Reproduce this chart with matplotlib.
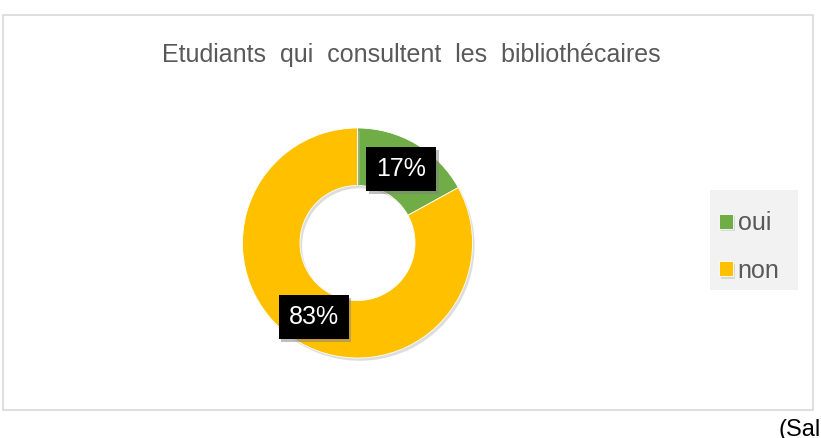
import matplotlib.pyplot as plt
from matplotlib.patches import Rectangle
import matplotlib.patheffects as pe

plt.rcParams["font.family"] = ["Liberation Sans", "DejaVu Sans"]

W, H = 821, 438

labels = ["oui", "non"]
shares = [17, 83]
colors = ["#70AD47", "#FFC000"]
title = "Etudiants  qui  consultent  les  bibliothécaires"

fig = plt.figure(figsize=(W / 100, H / 100), dpi=100)


def px(x, y):
    """pixel coords (from top-left) -> figure fraction"""
    return x / W, 1 - y / H


# chart frame
x0, y0 = px(3, 410)
x1, y1 = px(813, 15)
fig.patches.append(Rectangle((x0, y0), x1 - x0, y1 - y0, transform=fig.transFigure,
                             facecolor="white", edgecolor="#d9d9d9", lw=1.2, zorder=-2))

fig.text(*px(411, 55), title, ha="center", va="center", fontsize=18, color="#595959")

# donut
cx, cy, r = 357.5, 243, 115
ax = fig.add_axes([(cx - r) / W, (H - cy - r) / H, 2 * r / W, 2 * r / H])
ax.set_zorder(1)
wedges, texts, autotexts = ax.pie(
    shares, colors=colors, startangle=90, counterclock=False,
    wedgeprops=dict(width=0.5, edgecolor="white", linewidth=0.6),
    autopct="%d%%", pctdistance=0.75,
    textprops=dict(color="white", fontsize=18),
)
for w in wedges:
    w.set_path_effects([pe.SimplePatchShadow(offset=(1.5, -2), shadow_rgbFace="#bdbdbd", alpha=0.5), pe.Normal()])
for t in autotexts:
    t.set_bbox(dict(boxstyle="square,pad=0.4", facecolor="black", edgecolor="none"))
    t.get_bbox_patch().set_path_effects(
        [pe.SimplePatchShadow(offset=(2, -2), shadow_rgbFace="#808080", alpha=0.5), pe.Normal()])
ax.set_xlim(-1, 1)
ax.set_ylim(-1, 1)
ax.set_aspect("equal")
ax.axis("off")

# legend
lx0, ly0 = px(710, 290)
lx1, ly1 = px(798, 190)
fig.patches.append(Rectangle((lx0, ly0), lx1 - lx0, ly1 - ly0, transform=fig.transFigure,
                             facecolor="#f2f2f2", edgecolor="none", zorder=-1))
fig.legend(wedges, labels, loc="upper left", bbox_to_anchor=px(719, 211),
           frameon=False, fontsize=18, handlelength=0.55, handleheight=0.55,
           handletextpad=0.2, labelspacing=0.95, labelcolor="#595959",
           borderpad=0, borderaxespad=0)

fig.text(*px(778, 430), "(Sal", ha="left", va="center", fontsize=17, color="black")

fig.savefig("out.png", dpi=100)
